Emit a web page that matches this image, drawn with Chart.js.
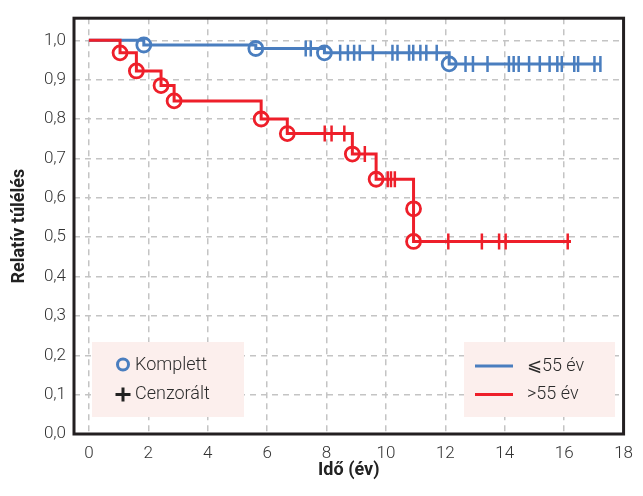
<!DOCTYPE html>
<html lang="hu">
<head>
  <meta charset="UTF-8" />
  <title>Relatív túlélés</title>
  <style>
    body, html {
      margin: 0;
      background: #fff;
    }
    #chart {
      display: block;
    }
  </style>
</head>
<body>

<canvas id="chart" width="643" height="496"></canvas>

<script src="https://cdn.jsdelivr.net/npm/chart.js@4"></script>
<script>
  // tengelyek
  const xTicks = [0, 2, 4, 6, 8, 10, 12, 14, 16, 18];
  const yTicks = [0, 0.1, 0.2, 0.3, 0.4, 0.5, 0.6, 0.7, 0.8, 0.9, 1.0];

  // <=55 év
  const youngEventTimes = [1.85, 5.62, 7.93, 12.13];
  const youngEventSurv = [0.988, 0.979, 0.968, 0.940];
  const youngCensorTimes = [7.30, 7.47, 8.46, 8.72, 8.93, 9.12, 9.56, 10.22, 10.39, 10.78, 10.92,
    11.16, 11.36, 11.71, 12.68, 12.93, 13.42, 14.14, 14.30, 14.47, 14.82, 15.18, 15.51, 15.77,
    15.92, 16.34, 16.47, 17.02, 17.22];
  const youngEnd = 17.22;

  // >55 év
  const oldEventTimes = [1.05, 1.60, 2.43, 2.87, 5.80, 6.68, 8.87, 9.67, 10.93, 10.93];
  const oldEventSurv = [0.968, 0.922, 0.885, 0.846, 0.800, 0.763, 0.711, 0.647, 0.572, 0.489];
  const oldCensorTimes = [7.94, 8.17, 8.60, 9.29, 10.06, 10.17, 10.30, 12.10, 13.23, 13.81, 14.03, 16.12];
  const oldEnd = 16.23;

  const BLUE = '#4a7ebf';
  const RED = '#ee1f2a';
  const FONT = "Roboto, 'DejaVu Sans', sans-serif";

  function curve(times, surv, end) {
    const pts = [{ x: 0, y: 1 }];
    times.forEach((t, i) => pts.push({ x: t, y: surv[i] }));
    pts.push({ x: end, y: surv[surv.length - 1] });
    return pts;
  }

  function survAt(times, surv, t) {
    let s = 1;
    times.forEach((e, i) => { if (e <= t) s = surv[i]; });
    return s;
  }

  function events(times, surv) {
    return times.map((t, i) => ({ x: t, y: surv[i] }));
  }

  function censors(cTimes, times, surv) {
    return cTimes.map(t => ({ x: t, y: survAt(times, surv, t) }));
  }

  function lineSet(data, color) {
    return {
      type: 'line', data, stepped: 'before', borderColor: color, borderWidth: 3,
      pointRadius: 0, fill: false
    };
  }

  function censorSet(data, color) {
    return {
      type: 'scatter', data, showLine: false, pointStyle: 'line', rotation: 90,
      pointRadius: 8, pointBorderWidth: 2.5, borderColor: color, pointBorderColor: color
    };
  }

  function eventSet(data, color) {
    return {
      type: 'scatter', data, showLine: false, pointStyle: 'circle',
      pointRadius: 7, pointBorderWidth: 2.8, pointBorderColor: color, pointBackgroundColor: '#fff'
    };
  }

  const legendBoxes = {
    id: 'legendBoxes',
    beforeDatasetsDraw(chart) {
      const ctx = chart.ctx;
      ctx.save();
      ctx.fillStyle = '#fcefed';
      ctx.fillRect(92, 342, 152, 75);
      ctx.fillRect(464, 342, 151, 75);

      ctx.font = '300 18px ' + FONT;
      ctx.fillStyle = '#2b2b2b';
      ctx.textBaseline = 'middle';
      ctx.fillText('Komplett', 135, 365);
      ctx.fillText('Cenzorált', 135, 394);
      ctx.fillText('⩽55 év', 527, 366);
      ctx.fillText('>55 év', 527, 394);

      ctx.beginPath();
      ctx.arc(123, 364.5, 5.5, 0, Math.PI * 2);
      ctx.lineWidth = 3;
      ctx.strokeStyle = BLUE;
      ctx.stroke();

      ctx.beginPath();
      ctx.moveTo(115.5, 394.5); ctx.lineTo(130.5, 394.5);
      ctx.moveTo(123, 387.5); ctx.lineTo(123, 401.5);
      ctx.lineWidth = 3;
      ctx.strokeStyle = '#222';
      ctx.stroke();

      ctx.lineWidth = 3;
      ctx.beginPath();
      ctx.moveTo(475, 366); ctx.lineTo(513, 366);
      ctx.strokeStyle = BLUE;
      ctx.stroke();
      ctx.beginPath();
      ctx.moveTo(475, 394.5); ctx.lineTo(513, 394.5);
      ctx.strokeStyle = RED;
      ctx.stroke();
      ctx.restore();
    },
    afterDraw(chart) {
      const { ctx, chartArea: a } = chart;
      ctx.save();
      ctx.lineWidth = 3;
      ctx.strokeStyle = '#231f20';
      ctx.strokeRect(a.left, a.top, a.right - a.left, a.bottom - a.top);
      ctx.restore();
    }
  };

  new Chart(document.getElementById('chart'), {
    data: {
      datasets: [
        lineSet(curve(oldEventTimes, oldEventSurv, oldEnd), RED),
        lineSet(curve(youngEventTimes, youngEventSurv, youngEnd), BLUE),
        censorSet(censors(oldCensorTimes, oldEventTimes, oldEventSurv), RED),
        censorSet(censors(youngCensorTimes, youngEventTimes, youngEventSurv), BLUE),
        eventSet(events(oldEventTimes, oldEventSurv), RED),
        eventSet(events(youngEventTimes, youngEventSurv), BLUE)
      ]
    },
    options: {
      responsive: false,
      animation: false,
      layout: { padding: { top: 11, right: 11, left: 0, bottom: 0 } },
      plugins: { legend: { display: false }, tooltip: { enabled: false } },
      scales: {
        x: {
          type: 'linear', min: -0.5, max: 18,
          afterBuildTicks: s => { s.ticks = xTicks.map(v => ({ value: v })); },
          afterFit: s => { s.height = 62; },
          grid: { color: '#c4c4c4', lineWidth: 1.5, drawTicks: false },
          border: { display: false, dash: [6, 5] },
          ticks: { padding: 10, color: '#333', font: { family: FONT, size: 17, weight: '300' } },
          title: {
            display: true, text: 'Idő (év)', color: '#222',
            font: { family: FONT, size: 18, weight: 'bold' }, padding: { top: 0, bottom: 15 }
          }
        },
        y: {
          type: 'linear', min: 0, max: 1.056,
          afterBuildTicks: s => { s.ticks = yTicks.map(v => ({ value: v })); },
          afterFit: s => { s.width = 74; },
          grid: { color: '#c4c4c4', lineWidth: 1.5, drawTicks: false },
          border: { display: false, dash: [6, 5] },
          ticks: {
            padding: 8, color: '#333', font: { family: FONT, size: 17, weight: '300' },
            callback: v => v.toFixed(1).replace('.', ',')
          },
          title: {
            display: true, text: 'Relatív túlélés', color: '#222',
            font: { family: FONT, size: 18, weight: 'bold' }, padding: { top: 9, bottom: 0 }
          }
        }
      }
    },
    plugins: [legendBoxes]
  });
</script>

</body>
</html>
